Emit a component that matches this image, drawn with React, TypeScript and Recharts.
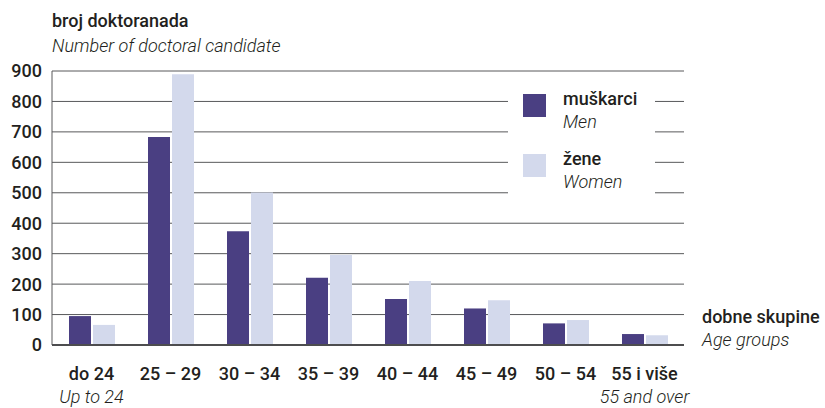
import { BarChart, Bar, XAxis, YAxis, CartesianGrid } from 'recharts'

const ageGroups = ['do 24', '25 – 29', '30 – 34', '35 – 39', '40 – 44', '45 – 49', '50 – 54', '55 i više']
const ageGroupsEn = ['Up to 24', '', '', '', '', '', '', '55 and over']
const men = [95, 683, 374, 221, 151, 120, 71, 36]
const women = [66, 889, 501, 296, 210, 147, 82, 32]
const yTicks = [0, 100, 200, 300, 400, 500, 600, 700, 800, 900]

const MEN_COLOR = '#4a3f82'
const WOMEN_COLOR = '#d3d9ec'
const TEXT = '#231f20'
const FONT = 'Roboto, "Liberation Sans", sans-serif'

const data = ageGroups.map((group, i) => ({
  group,
  en: ageGroupsEn[i],
  men: men[i],
  women: women[i],
}))

// two-line category label: croatian on top, english (only first/last) below
function AgeTick(props: any) {
  const { x, y, payload, index } = props
  const en = ageGroupsEn[index]
  return (
    <g>
      <text x={x} y={y + 27} textAnchor="middle" fontFamily={FONT} fontWeight={500} fontSize={18} fill={TEXT}>
        {payload.value}
      </text>
      {en && (
        <text x={x} y={y + 50} textAnchor="middle" fontFamily={FONT} fontStyle="italic" fontWeight={300} fontSize={18} fill={TEXT}>
          {en}
        </text>
      )}
    </g>
  )
}

function SexLegend() {
  const rows = [
    { color: MEN_COLOR, hr: 'muškarci', en: 'Men' },
    { color: WOMEN_COLOR, hr: 'žene', en: 'Women' },
  ]
  return (
    <svg width={147} height={122} style={{ background: '#fff', display: 'block' }}>
      {rows.map((r, i) => (
        <g key={r.hr} transform={`translate(0, ${i * 60})`}>
          <rect x={15} y={16} width={23} height={23} fill={r.color} />
          <text x={55} y={27} fontFamily={FONT} fontWeight={500} fontSize={18} fill={TEXT}>
            {r.hr}
          </text>
          <text x={55} y={50} fontFamily={FONT} fontStyle="italic" fontWeight={300} fontSize={18} fill={TEXT}>
            {r.en}
          </text>
        </g>
      ))}
    </svg>
  )
}

export default function App() {
  return (
    <div style={{ position: 'relative', width: 825, height: 408, background: '#fff' }}>
      <style>{`body { margin: 0; }`}</style>
      <BarChart
        width={825}
        height={408}
        data={data}
        margin={{ top: 71, right: 141, bottom: 0, left: 0 }}
        barSize={22}
        barGap={2}
      >
        <CartesianGrid horizontal vertical={false} stroke="#58595b" strokeWidth={1} />
        <YAxis
          width={52}
          domain={[0, 900]}
          ticks={yTicks}
          interval={0}
          tickLine={false}
          tickMargin={4}
          axisLine={{ stroke: '#58595b', strokeWidth: 1 }}
          tick={{ fontFamily: FONT, fontWeight: 500, fontSize: 18, fill: TEXT }}
        />
        <XAxis
          dataKey="group"
          height={63}
          interval={0}
          tickLine={false}
          axisLine={{ stroke: '#4d4d4f', strokeWidth: 2 }}
          tick={<AgeTick />}
        />
        <Bar dataKey="men" fill={MEN_COLOR} isAnimationActive={false} />
        <Bar dataKey="women" fill={WOMEN_COLOR} isAnimationActive={false} />
      </BarChart>
      <div style={{ position: 'absolute', left: 508, top: 78 }}>
        <SexLegend />
      </div>
      <svg width={825} height={408} style={{ position: 'absolute', left: 0, top: 0, pointerEvents: 'none' }}>
        <text x={52} y={27} fontFamily={FONT} fontWeight={500} fontSize={18} fill={TEXT}>
          broj doktoranada
        </text>
        <text x={52} y={52} fontFamily={FONT} fontStyle="italic" fontWeight={300} fontSize={18} fill={TEXT}>
          Number of doctoral candidate
        </text>
        <text x={702} y={323} fontFamily={FONT} fontWeight={500} fontSize={18} fill={TEXT}>
          dobne skupine
        </text>
        <text x={702} y={346} fontFamily={FONT} fontStyle="italic" fontWeight={300} fontSize={18} fill={TEXT}>
          Age groups
        </text>
      </svg>
    </div>
  )
}
